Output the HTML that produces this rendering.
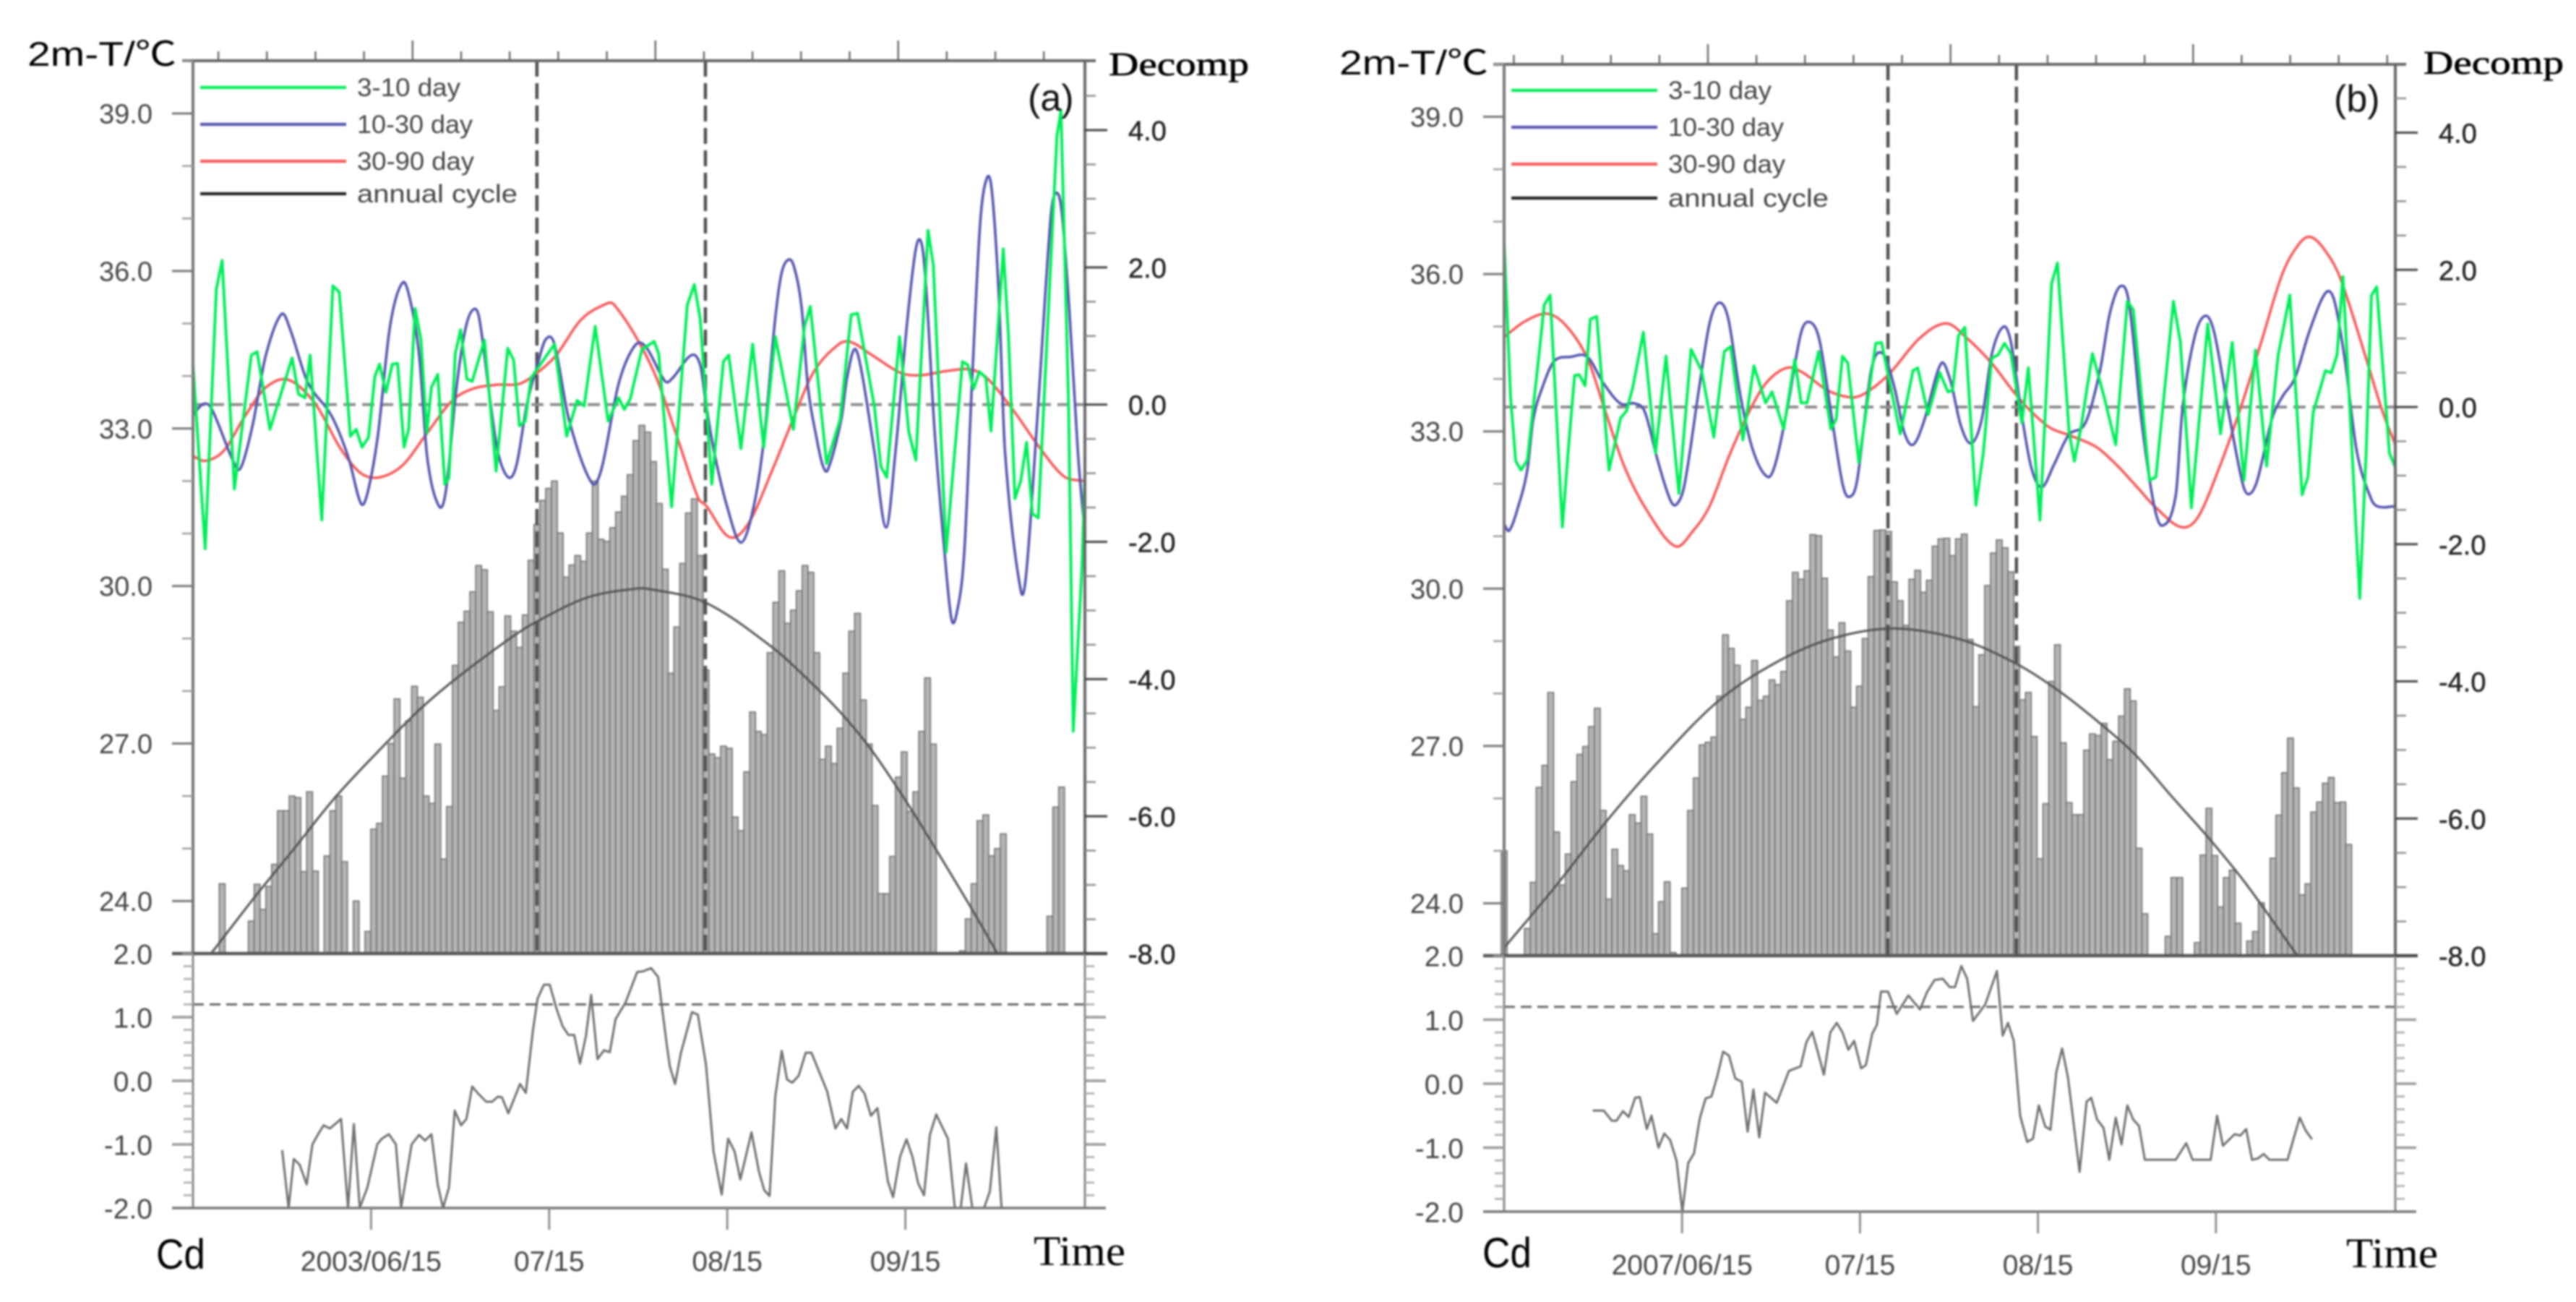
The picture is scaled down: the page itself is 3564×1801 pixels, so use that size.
<!DOCTYPE html>
<html lang="en">
<head>
<meta charset="utf-8">
<title>2m temperature decomposition and Cd index</title>
<style>
html,body{margin:0;padding:0;background:#fff;width:3564px;height:1801px;overflow:hidden}
svg{display:block;filter:blur(1.2px)}
text{font-family:"Liberation Sans","Noto Sans CJK SC",sans-serif}
</style>
</head>
<body>
<svg id="figure" xmlns="http://www.w3.org/2000/svg" width="3564" height="1801" viewBox="0 0 3564 1801"></svg>
<script>
// ---------- shared tick labels ----------
const tempTicks = [24, 27, 30, 33, 36, 39];
const tempMinor = [23, 25, 26, 28, 29, 31, 32, 34, 35, 37, 38, 40];
const decompTicks = [4, 2, 0, -2, -4, -6, -8];
const cdTicks = [2, 1, 0, -1, -2];
const monthTickDays = [30.55, 61.1, 91.65, 122.2];
const legendLabels = ["3-10 day", "10-30 day", "30-90 day", "annual cycle"];
const legendColors = ["#00ee58", "#5555b0", "#f85a5a", "#222222"];
const dateLabelsA = ["2003/06/15", "07/15", "08/15", "09/15"];
const dateLabelsB = ["2007/06/15", "07/15", "08/15", "09/15"];
const cdThreshold = 1.2;
const eventDaysA = [59, 87.9];
const eventDaysB = [65.9, 87.95];

// ---------- panel (a) data ----------
const barsA = [
null,null,null,null,null,24.33,null,null,null,null,
23.62,24.32,23.84,24.28,24.70,25.72,25.72,26.00,25.97,24.56,
26.08,24.57,null,24.86,25.72,26.00,24.75,null,24.00,null,
23.42,25.37,25.48,26.38,27.00,27.85,26.34,27.43,28.09,27.88,
26.00,25.86,26.99,24.80,25.80,28.49,29.31,29.52,29.89,30.39,
30.31,29.51,27.63,28.08,29.43,29.14,28.83,29.45,30.49,31.17,
31.63,31.86,32.00,31.01,30.17,30.40,30.58,30.47,31.01,32.00,
30.89,30.85,31.11,31.41,31.71,32.12,32.77,33.06,32.93,32.37,
31.57,30.32,28.34,29.22,30.43,31.39,31.66,30.58,28.40,26.80,
26.73,26.95,26.91,25.60,25.34,26.46,27.60,27.23,27.17,28.73,
29.69,30.29,29.29,29.54,29.91,30.39,30.26,28.73,26.70,26.95,
26.62,27.29,28.34,29.14,29.48,27.83,26.99,25.82,24.14,24.14,
24.85,26.36,26.84,25.71,26.08,27.23,28.25,26.99,null,null,
null,null,23.05,23.66,24.33,25.53,25.64,24.86,25.00,25.28,
null,null,null,null,null,null,null,23.71,25.79,26.17,
null,null,null];
const annualDaysA = [3.1,10.7,17,24.6,33.5,39.2,45.5,55,59.1,67.6,75.9,78.5,88,99.4,106.4,111.5,116.5,122.8,127.9,133.6,138];
const annualValsA = [23,24.09,24.95,26,27.05,27.68,28.27,29.05,29.33,29.78,29.95,29.94,29.68,28.83,28.12,27.54,26.86,25.82,24.9,23.85,23];
const greenDaysA = [0,2.1,4,5,7.1,10,11,13.2,17,18.1,19.2,20.1,22.1,24,25.1,27,28,29,30.1,31.2,32,33.1,34.2,35.1,36.2,37,38.1,39.1,40.1,40.9,42,43.2,43.9,45,45.9,47,47.9,50,52,54,55,56,57,58,62,64.1,65.9,67.1,69,71.2,73,74,75,77,79.1,79.9,82.1,84.8,86,87,89,91,91.9,94,96,97.9,99.9,103,104.9,105.9,108.7,111,112.9,114,116.9,118,119,121.2,122.8,124,126.1,127,129.2,132,132.9,133.9,134.9,136,136.9,139,139.9,141,142,143,144,145,148.2,148.9,150.2,151,152.5,153];
const greenValsA = [0.58,-2.1,1.68,2.1,-1.23,0.72,0.77,-0.36,0.68,0.155,0.1,0.72,-1.68,1.73,1.64,-0.46,-0.36,-0.62,-0.48,0.41,0.59,0.18,0.59,0.6,-0.62,-0.36,1.4,0.95,-0.41,0.25,0.44,-1.16,-1.07,0.74,1.09,0.37,0.34,0.94,-0.97,0.82,0.65,-0.31,-0.24,0.39,0.88,-0.46,0.06,-0.02,1.14,-0.24,0.1,-0.07,0.08,0.8,0.92,0.74,-1.49,1.45,1.75,1.26,-1.16,0.63,0.72,-0.64,0.88,-0.62,0.99,-0.36,1.14,1.43,-0.86,-0.22,1.31,1.33,-0.03,-0.9,-1.06,0.99,-0.4,-0.81,2.54,2.03,-2.15,0.625,0.58,0.23,0.48,0.39,-0.385,2.27,1,-1.37,-1.11,-0.55,-1.59,-1.65,3.91,4.29,0,-4.76,-2.36,-1];
const blueDaysA = [0,1.8,3.2,7.5,8.5,10.3,12.5,15.2,16.7,19.6,23.8,26.7,28.8,29.9,31.7,33.8,36,37.4,38.8,40.2,42.2,43.4,45.2,46.7,48,49.1,50.9,52.3,54.1,55.5,57.3,59.1,60.5,62,64.5,68.4,70.1,73,75.8,77.7,81,82.3,85.5,87,88,89.4,91.6,94,96.2,98,99.8,100.9,102.1,103.1,104.4,105.5,107,108,108.9,111.2,112.2,113.5,114.7,116.9,118.9,120.5,122.5,124,125,125.8,127.2,128.9,130.1,131,132.3,133.6,135,136.1,137,138.2,139.3,142,143,145,147.1,148,149,150.3,151.8,153];
const blueValsA = [-0.15,0.01,-0.06,-0.93,-0.86,-0.27,0.72,1.32,1.09,0.34,-0.17,-0.78,-1.44,-1.3,-0.46,1.14,1.78,1.47,0.72,-0.78,-1.48,-1.25,0.25,1.09,1.38,1.26,0.11,-0.69,-1.06,-0.88,0.01,0.58,0.95,0.88,-0.22,-1.14,-0.93,0.3,0.86,0.84,0.34,0.39,0.72,0.58,0.01,-0.69,-1.48,-2.01,-1.48,-0.46,1.19,1.89,2.11,2.01,1.42,0.25,-0.5,-0.88,-0.95,-0.22,0.39,0.81,0.48,-0.69,-1.79,-0.69,1.19,2.27,2.34,1.66,-0.36,-2.13,-3.12,-3.04,-2.17,0.25,2.6,3.28,3.14,1.66,-0.69,-2.71,-2.41,0.01,2.69,3.08,2.83,1.42,-0.69,-1.9];
const redDaysA = [0,2.1,5.3,8.9,12.5,16.4,21,25.3,28.8,32,36,40.2,44.5,48,52.3,55.9,58.7,62.3,66.6,71.2,72.3,75.9,79.5,83,86.6,88,92,95.3,99.4,102.9,106.5,110.8,112.9,116.5,121.5,125,129.3,133.6,136.4,140.7,145,149.3,152.5,153];
const redValsA = [-0.75,-0.82,-0.67,-0.17,0.25,0.36,0.01,-0.64,-1,-1.06,-0.88,-0.41,0.06,0.23,0.29,0.3,0.44,0.72,1.24,1.48,1.45,1,0.39,-0.46,-1.35,-1.47,-1.93,-1.73,-0.95,-0.22,0.48,0.88,0.91,0.72,0.46,0.43,0.49,0.51,0.37,-0.08,-0.6,-1.04,-1.11,-1.11];
const cdDaysA = [15.3,16.4,17.3,18.3,19.5,20.5,21.4,22.4,23.5,25.4,26.6,27.6,28.6,29.9,31.6,32.4,33.6,34.8,35.7,37.5,38.8,39.8,40.9,42,42.9,43.9,44.9,46,46.9,47.9,48.9,50.3,51.3,52.3,53,54.1,56.1,57.1,58.3,59.1,60.2,61.2,62.4,63.4,64.4,65.4,66.4,67.4,68.3,69.4,70.5,71.5,72.5,74.2,76.2,77.2,78.6,79.8,81.3,81.8,82.7,83.7,85.6,86.6,88,89.3,90.7,91.8,92.9,93.9,95.8,97.1,98,98.9,99.9,101,101.9,102.8,103.9,105.1,106.1,108.8,110.2,111.2,112.2,113.2,114.2,115.2,116.3,117.4,119.2,120.1,121.3,122.4,123.4,124.4,125.4,126.4,127.5,129.5,130.7,131.7,132.6,133.7,135.7,136.7,137.8,138.7];
const cdValsA = [-1.09,-2,-1.23,-1.32,-1.63,-1,-0.85,-0.7,-0.75,-0.6,-2,-0.68,-2,-1.68,-1,-0.91,-0.84,-1,-2,-1,-0.85,-0.94,-0.84,-1.64,-2,-1.68,-0.47,-0.7,-0.6,-0.09,-0.2,-0.33,-0.33,-0.25,-0.26,-0.51,-0.05,-0.19,0.78,1.29,1.51,1.51,1.12,0.86,0.72,0.72,0.27,0.7,1.35,0.34,0.48,0.45,0.97,1.23,1.71,1.72,1.77,1.63,0.55,0.23,-0.05,0.44,1.08,1.04,0.25,-1.11,-1.79,-0.91,-1.11,-1.55,-0.81,-1.43,-1.72,-1.81,-0.24,0.47,0.02,-0.03,0.08,0.44,0.44,-0.17,-0.75,-0.6,-0.75,-0.17,-0.08,-0.2,-0.55,-0.43,-1.58,-1.83,-1.19,-0.92,-1.19,-1.61,-1.8,-0.85,-0.53,-0.91,-2,-2,-1.3,-2,-2,-1.74,-0.73,-2];

// ---------- panel (b) data ----------
const barsB = [
25.00,null,null,null,23.52,24.40,26.21,26.63,28.02,25.36,
24.35,24.94,26.32,26.84,26.99,27.37,27.72,25.77,24.08,25.03,
24.72,24.62,25.69,25.53,26.04,25.32,23.42,24.03,24.41,23.06,
null,24.29,25.77,26.39,27.02,27.07,27.17,27.95,29.12,28.86,
28.54,27.51,27.74,28.63,27.87,27.95,28.26,28.17,28.42,29.77,
30.31,30.18,30.34,31.03,31.01,30.20,29.21,28.70,29.35,28.81,
27.74,28.14,29.05,30.23,31.11,31.12,31.09,30.13,29.77,29.30,
30.18,30.35,29.93,30.16,30.81,30.95,30.96,30.63,30.95,31.04,
29.03,27.75,28.74,30.06,30.68,30.93,30.78,30.32,28.90,27.88,
28.02,27.18,24.85,25.90,28.23,28.93,27.06,25.92,25.69,25.69,
26.92,27.23,27.20,27.43,26.74,27.09,27.57,28.09,27.86,25.05,
23.80,null,null,null,23.37,24.49,24.49,null,null,23.25,
24.92,25.81,24.91,23.93,24.49,24.63,23.62,null,23.28,23.46,
24.01,null,24.86,25.68,26.49,27.15,26.20,24.16,24.37,25.74,
25.93,26.29,26.40,25.92,25.93,25.12,null,null,null,null,
null,null,null];
const annualDaysB = [0,8.8,17.7,25.9,36.7,46.8,56.3,67,78.4,87.9,95,102,108.3,114.6,121,127.3,136.2];
const annualValsB = [23.15,24.32,25.58,26.63,27.85,28.6,29.05,29.24,29.03,28.57,28.07,27.46,26.84,26.04,25.24,24.38,23];
const greenDaysB = [0,1.1,2,2.9,4,5.7,6.9,7.9,10,11,12.1,12.9,13.9,14.8,15.9,18,20,21,22.1,23.9,26,27.8,30,32.1,33.9,36,37.8,38.9,41,42.9,44.9,46,48,49.9,51,52,54,56.1,57,58.1,59,60.9,63.8,64.8,68,70.2,71,72.8,74.8,76.2,77,78,79.1,81,82.3,83.7,84.8,85.9,87,88.9,90,92,94,95,97,97.9,99,101,103,105,107,108,110.8,111.9,114.9,116.1,118,120.8,123,125,127,129,130.9,132.9,134.9,137,138,138.9,141,142,143,144,146.9,148,148.9,149.8,152,153];
const greenValsB = [2.41,0.15,-0.79,-0.92,-0.77,0.53,1.49,1.63,-1.75,-0.65,0.46,0.47,0.31,1.28,1.32,-0.92,-0.16,-0.06,0.29,1.09,-0.67,0.74,-1.26,0.84,0.53,-0.44,0.81,0.88,-0.48,0.6,0.06,0.22,-0.32,0.69,0.06,0.06,0.81,-0.32,-0.18,0.74,0.64,-0.81,0.93,0.94,-0.39,0.53,0.57,-0.11,0.5,0.22,0.24,1.04,1.16,-1.43,-0.65,0.71,0.76,0.93,0.78,-0.23,0.57,-1.65,1.8,2.1,-0.37,-0.79,-0.32,0.78,0.15,-0.55,1.54,1.42,-1.07,-1.02,1.54,0.95,-1.47,1.21,-0.39,0.94,-1.07,0.83,-0.86,0.76,1.63,-1.28,-1.02,-0.08,0.53,0.5,0.76,1.9,-2.79,-0.65,1.63,1.75,-0.67,-0.88];
const blueDaysB = [0,0.9,2.5,4,5,6.8,8.6,11.4,14.3,17.1,20,22.5,24.2,26.4,28.5,29.6,31,33.5,35.3,36.9,38.5,40.6,42.8,45.3,46.7,48.8,51,52.7,54.2,56.3,58.1,59.2,60.6,63,65,67,68.7,70.2,72,75,76.6,78.4,80.2,82,83.7,85.7,87,88.8,90.5,92.3,94.4,96.9,99.8,102.3,104,105.8,107.3,109.4,111.5,113,115.3,116.5,118.6,120.4,121.9,124.4,126.8,127.9,129.3,131.8,133.6,135.8,138.2,141,142.5,144.3,146.4,148.8,150,152.8,153];
const blueValsB = [-1.71,-1.8,-1.43,-0.91,-0.18,0.34,0.67,0.73,0.73,0.34,0.05,0.05,-0.08,-0.79,-1.35,-1.42,-1.12,0.29,1.23,1.52,1.28,0.15,-0.65,-1.02,-0.79,0.06,1.09,1.23,0.95,-0.18,-1.12,-1.31,-1.07,0.53,0.78,0.29,-0.37,-0.55,-0.23,0.63,0.39,-0.27,-0.53,-0.18,0.76,1.17,0.95,-0.08,-0.88,-1.17,-0.84,-0.41,-0.23,0.53,1.37,1.76,1.51,-0.18,-1.4,-1.73,-1.29,0.01,1.04,1.33,1.09,-0.08,-1.12,-1.27,-1.07,-0.18,0.15,0.43,1.09,1.66,1.56,0.71,-0.65,-1.33,-1.45,-1.45,-1.45];
const redDaysB = [0,3.6,7.5,10.7,14.3,17.1,20.7,24.6,29.4,32.5,35.3,38.5,41.7,44.9,48.5,51.3,55.6,59.9,62.7,66.3,71.3,75.9,79.5,83.7,87.3,90.2,93.7,97.3,101.6,105.1,108.7,111.7,116.2,119.1,122.8,126.5,130,133.6,136.5,138.4,140.7,143.5,147.8,150.7,153];
const redValsB = [1.02,1.25,1.36,1.18,0.71,0.01,-0.88,-1.52,-2.03,-1.8,-1.44,-0.74,-0.13,0.34,0.57,0.5,0.24,0.14,0.24,0.5,1,1.22,1,0.64,0.24,-0.04,-0.3,-0.42,-0.58,-0.84,-1.17,-1.45,-1.75,-1.61,-0.88,0,0.95,1.94,2.38,2.48,2.31,1.89,0.76,-0.04,-0.55];
const cdDaysB = [15.2,17.1,18.5,19.3,20.4,21.4,22.5,23.3,24.5,25.3,26.5,27.5,28.5,29.6,30.6,31.6,32.6,33.6,34.6,35.6,36.6,37.6,38.6,39.7,40.8,41.8,42.8,43.8,44.8,46.8,48.9,50.9,51.9,52.9,53.9,54.9,56,57.1,58.1,59.1,60.1,61.3,62.1,63.2,64,64.7,65.9,67.4,69.4,71.4,72.6,73.9,75.3,76.5,77.4,78.5,79.5,80.5,82.6,84.6,85.6,86.5,87.5,88.6,89.8,90.8,91.8,92.9,93.8,94.8,95.8,96.8,98.8,100,100.8,101.8,102.9,103.9,105,106,107,108,109,110,115.3,117.1,118.2,121.3,122.4,123.4,125.4,126.4,127.4,128.4,129.4,130.4,131.4,134.5,135.6,136.6,137.6,138.7];
const cdValsB = [-0.42,-0.42,-0.58,-0.58,-0.43,-0.52,-0.22,-0.21,-0.71,-0.5,-1,-0.78,-0.88,-1.2,-2,-1.24,-1.09,-0.54,-0.23,-0.2,0.12,0.5,0.44,0.08,0.03,-0.75,-0.09,-0.84,-0.14,-0.3,0.2,0.27,0.65,0.81,0.48,0.14,0.8,0.95,0.8,0.53,0.67,0.24,0.29,0.78,0.92,1.44,1.44,1.09,1.38,1.16,1.43,1.62,1.64,1.51,1.51,1.84,1.64,0.98,1.24,1.76,0.75,0.95,0.67,-0.5,-0.91,-0.86,-0.34,-0.67,-0.72,0.18,0.55,0.1,-1.38,-0.28,-0.22,-0.56,-0.69,-1.19,-0.53,-0.95,-0.34,-0.56,-0.66,-1.19,-1.19,-0.93,-1.19,-1.19,-0.5,-0.97,-0.79,-0.81,-0.71,-1.19,-1.17,-1.1,-1.19,-1.19,-0.84,-0.53,-0.73,-0.87];

// ---------- drawing ----------
const NS = "http://www.w3.org/2000/svg";
const svg = document.getElementById("figure");
function mk(tag, parent, attrs, text) {
  const el = document.createElementNS(NS, tag);
  for (const k in attrs) el.setAttribute(k, attrs[k]);
  if (text !== undefined) el.textContent = text;
  parent.appendChild(el);
  return el;
}
function smoothPath(xs, ys) {
  const m = xs.map((x, i) => {
    const a = Math.max(0, i - 1), b = Math.min(xs.length - 1, i + 1);
    return (ys[b] - ys[a]) / (xs[b] - xs[a]);
  });
  let d = "M" + xs[0].toFixed(1) + " " + ys[0].toFixed(1);
  for (let i = 0; i < xs.length - 1; i++) {
    const h = (xs[i + 1] - xs[i]) / 3;
    d += "C" + (xs[i] + h).toFixed(1) + " " + (ys[i] + m[i] * h).toFixed(1) + " " +
      (xs[i + 1] - h).toFixed(1) + " " + (ys[i + 1] - m[i + 1] * h).toFixed(1) + " " +
      xs[i + 1].toFixed(1) + " " + ys[i + 1].toFixed(1);
  }
  return d;
}
function polyPath(xs, ys) {
  return xs.map((x, i) => (i ? "L" : "M") + x.toFixed(1) + " " + ys[i].toFixed(1)).join("");
}
function seg(parent, x1, y1, x2, y2, color, w, extra) {
  return mk("line", parent, Object.assign({x1, y1, x2, y2, stroke: color, "stroke-width": w}, extra || {}));
}

function drawPanel(p) {
  const g = mk("g", svg, {});
  
  
  const DAYS = 153;
  const xS = d => p.left + d * (p.right - p.left) / DAYS;
  const tY = t => p.base - (t - 23) * (p.base - p.y39) / 16;
  const rY = v => p.base - (v + 8) * (p.base - p.y4) / 12;
  const cY = v => p.bottom - (v + 2) * (p.bottom - p.base) / 4;
  const bw = (p.right - p.left) / DAYS;

  // bars
  const barsG = mk("g", g, {});
  
  
  p.bars.forEach((t, d) => {
    if (t === null) return;
    const r = mk("rect", barsG, {x: xS(d) - bw / 2, y: tY(t), width: bw, height: p.base - tY(t), fill: "#b4b4b4", stroke: "#707070", "stroke-width": 1.6});
    
    
  });

  // annual cycle
  const ann = mk("path", g, {d: smoothPath(p.annualDays.map(xS), p.annualVals.map(tY)), fill: "none", stroke: "#505050", "stroke-width": 3.2, "stroke-opacity": 0.9});
  
  

  // event dashed verticals
  p.eventDays.forEach((d, i) => {
    const v = seg(g, xS(d), p.top, xS(d), p.base, "#505050", 4.5, {"stroke-dasharray": "22 9"});
    
    
  });

  // zero reference
  const zero = seg(g, p.left, rY(0), p.right, rY(0), "#8c8c8c", 4, {"stroke-dasharray": "17 9"});
  
  

  // filtered series
  const red = mk("path", g, {d: smoothPath(p.redDays.map(xS), p.redVals.map(rY)), fill: "none", stroke: legendColors[2], "stroke-width": 3.6});
  
  
  const blue = mk("path", g, {d: smoothPath(p.blueDays.map(xS), p.blueVals.map(rY)), fill: "none", stroke: legendColors[1], "stroke-width": 3.6});
  
  
  const green = mk("path", g, {d: polyPath(p.greenDays.map(xS), p.greenVals.map(rY)), fill: "none", stroke: legendColors[0], "stroke-width": 4, "stroke-linejoin": "round"});
  
  

  // Cd
  const cdLine = mk("path", g, {d: polyPath(p.cdDays.map(xS), p.cdVals.map(cY)), fill: "none", stroke: "#707070", "stroke-width": 3, "stroke-linejoin": "round"});
  
  
  const thr = seg(g, p.left, cY(cdThreshold), p.right, cY(cdThreshold), "#666", 3, {"stroke-dasharray": "15 8"});
  
  

  // frame
  const frame = mk("g", g, {});
  
  
  seg(frame, p.left - 15, p.top, p.right + 15, p.top, "#666", 4);
  seg(frame, p.left, p.top, p.left, p.base, "#777", 4);
  seg(frame, p.right, p.top, p.right, p.base, "#666", 4);
  seg(frame, p.left - 29, p.base, p.right + 31, p.base, "#555", 4.5);
  seg(frame, p.left, p.base, p.left, p.bottom, "#888", 3);
  seg(frame, p.right, p.base, p.right, p.bottom, "#888", 3);
  seg(frame, p.left - 29, p.bottom, p.right + 29, p.bottom, "#777", 3.5);

  // top ticks
  for (let k = 0; k <= p.topCount; k++) {
    const d = p.topStart + 8.33 * k;
    const major = (k === 4 || k === 9 || k === 14);
    seg(frame, xS(d), p.top, xS(d), p.top - (major ? 28 : 13), "#666", 2.4);
  }
  // temperature ticks
  const leftG = mk("g", g, {});
  
  
  tempMinor.forEach(t => seg(leftG, p.left, tY(t), p.left - 15, tY(t), "#999", 2.4));
  tempTicks.forEach(t => {
    seg(leftG, p.left, tY(t), p.left - 29, tY(t), "#777", 3);
    mk("text", leftG, {x: p.left - 56, y: tY(t) + 13.5, "text-anchor": "end", "font-size": 38, fill: "#444"}, t.toFixed(1));
  });
  // decomp ticks
  const rightG = mk("g", g, {});
  
  
  for (let v = -7.5; v <= 4.5; v += 0.5) {
    if (Number.isInteger(v / 2)) continue;
    seg(rightG, p.right, rY(v), p.right + 15, rY(v), "#888", 2.4);
  }
  decompTicks.forEach(v => {
    seg(rightG, p.right, rY(v), p.right + 31, rY(v), "#444", 3);
    mk("text", rightG, {x: p.right + 60, y: rY(v) + 14, "font-size": 38, fill: "#222", stroke: "#222", "stroke-width": 0.5}, v.toFixed(1));
  });
  // cd ticks
  const cdG = mk("g", g, {});
  
  
  for (let v = -1.8; v < 2; v += 0.2) {
    const r = Math.round(v * 10) / 10;
    if (Number.isInteger(r)) continue;
    seg(cdG, p.left, cY(r), p.left - 13, cY(r), "#aaa", 2.6);
    seg(cdG, p.right, cY(r), p.right + 13, cY(r), "#aaa", 2.6);
  }
  cdTicks.forEach(v => {
    if (v !== 2 && v !== -2) {
      seg(cdG, p.left, cY(v), p.left - 29, cY(v), "#999", 3.5);
      seg(cdG, p.right, cY(v), p.right + 29, cY(v), "#999", 3.5);
    }
    mk("text", cdG, {x: p.left - 56, y: cY(v) + 14.5, "text-anchor": "end", "font-size": 39, fill: "#444"}, v.toFixed(1));
  });
  // month ticks
  const xG = mk("g", g, {});
  
  
  monthTickDays.forEach((d, i) => {
    seg(xG, xS(d), p.bottom, xS(d), p.bottom + 30, "#888", 2.8);
    mk("text", xG, {x: xS(d), y: p.bottom + 87, "text-anchor": "middle", "font-size": 39, fill: "#444"}, p.dates[i]);
  });

  // legend
  const lg = mk("g", g, {});
  
  
  legendLabels.forEach((label, i) => {
    const en = mk("g", lg, {});
    
    
    const y = p.legendY[i];
    seg(en, p.legendX, y, p.legendX + 202, y, legendColors[i], 4.2);
    mk("text", en, {x: p.legendX + 217, y: y + 12, "font-size": 35, fill: "#444", textLength: p.legendW[i], lengthAdjust: "spacingAndGlyphs"}, label);
  });

  // titles
  const t1 = mk("text", g, {x: p.titleX, y: p.titleY, "font-size": 47, fill: "#000", textLength: 206, lengthAdjust: "spacingAndGlyphs", "font-family": '"Liberation Sans","Noto Sans CJK SC",sans-serif'}, "2m-T/℃");
  
  
  const t2 = mk("text", g, {x: p.decompX, y: p.decompY, "font-size": 46, fill: "#000", stroke: "#000", "stroke-width": 0.7, textLength: 194, lengthAdjust: "spacingAndGlyphs", style: 'font-family:"Liberation Serif",serif'}, "Decomp");
  
  
  const t3 = mk("text", g, {x: p.tagX, y: p.tagY, "font-size": 52, fill: "#111"}, p.tag);
  
  
  const t4 = mk("text", g, {x: p.cdX, y: p.cdY, "font-size": 58, fill: "#000", textLength: 68, lengthAdjust: "spacingAndGlyphs"}, "Cd");
  
  
  const t5 = mk("text", g, {x: p.timeX, y: p.timeY, "font-size": 58, fill: "#000", textLength: 127, lengthAdjust: "spacingAndGlyphs", style: 'font-family:"Liberation Serif",serif'}, "Time");
  
  
}

drawPanel({
  id: "a", tag: "(a)", left: 267, right: 1501, top: 84, base: 1319, bottom: 1671, y39: 157, y4: 180,
  topStart: 4.35, topCount: 17,
  bars: barsA, annualDays: annualDaysA, annualVals: annualValsA,
  greenDays: greenDaysA, greenVals: greenValsA, blueDays: blueDaysA, blueVals: blueValsA,
  redDays: redDaysA, redVals: redValsA, cdDays: cdDaysA, cdVals: cdValsA,
  eventDays: eventDaysA, dates: dateLabelsA,
  legendX: 277, legendY: [121, 172, 223, 268], legendW: [143, 160, 162, 222],
  titleX: 38, titleY: 91, decompX: 1534, decompY: 104, tagX: 1422, tagY: 153,
  cdX: 216, cdY: 1755, timeX: 1430, timeY: 1750
});
drawPanel({
  id: "b", tag: "(b)", left: 2081, right: 3314, top: 89, base: 1322, bottom: 1676, y39: 161.5, y4: 183.5,
  topStart: 1.67, topCount: 18,
  bars: barsB, annualDays: annualDaysB, annualVals: annualValsB,
  greenDays: greenDaysB, greenVals: greenValsB, blueDays: blueDaysB, blueVals: blueValsB,
  redDays: redDaysB, redVals: redValsB, cdDays: cdDaysB, cdVals: cdValsB,
  eventDays: eventDaysB, dates: dateLabelsB,
  legendX: 2091, legendY: [125, 176, 227, 274], legendW: [143, 160, 162, 222],
  titleX: 1853, titleY: 103, decompX: 3353, decompY: 102, tagX: 3229, tagY: 154,
  cdX: 2051, cdY: 1753, timeX: 3246, timeY: 1753
});
</script>
</body>
</html>
